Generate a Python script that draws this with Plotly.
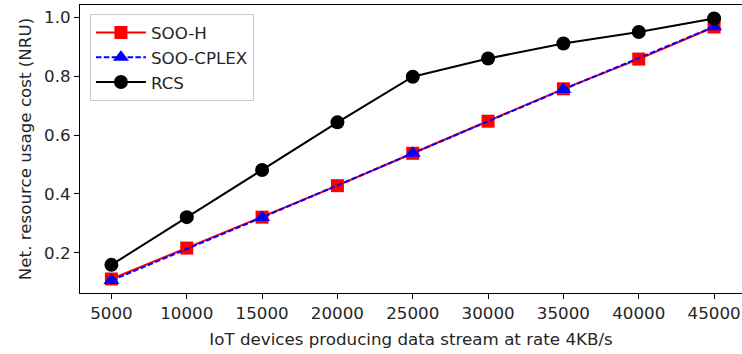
import plotly.graph_objects as go

devices = [5000, 10000, 15000, 20000, 25000, 30000, 35000, 40000, 45000]
soo_h = [0.111, 0.216, 0.321, 0.428, 0.538, 0.647, 0.757, 0.858, 0.967]
cplex_devices = [5000, 15000, 25000, 35000, 45000]
soo_cplex = [0.106, 0.320, 0.538, 0.755, 0.968]
rcs = [0.159, 0.321, 0.481, 0.643, 0.798, 0.860, 0.911, 0.950, 0.996]
x_ticks = [5000, 10000, 15000, 20000, 25000, 30000, 35000, 40000, 45000]
y_ticks = [0.2, 0.4, 0.6, 0.8, 1.0]

FONT = "DejaVu Sans"
FS = 16.7
TXT = "#262626"

fig = go.Figure()
fig.add_trace(go.Scatter(
    x=devices, y=soo_h, name="SOO-H", mode="lines+markers", legendgroup="a",
    line=dict(color="#ff0000", width=2),
    marker=dict(symbol="square", size=13, color="#ff0000"),
))
fig.add_trace(go.Scatter(
    x=cplex_devices, y=soo_cplex, name="SOO-CPLEX", mode="lines+markers", legendgroup="b",
    line=dict(color="#0000ff", width=2, dash="5.5px,2.4px"),
    marker=dict(symbol="triangle-up", size=14, color="#0000ff"),
))
fig.add_trace(go.Scatter(
    x=devices, y=rcs, name="RCS", mode="lines+markers", legendgroup="c",
    line=dict(color="#000000", width=2),
    marker=dict(symbol="circle", size=14, color="#000000"),
))

fig.update_layout(
    width=742, height=354,
    margin=dict(l=80, r=0, t=5, b=61),
    paper_bgcolor="white", plot_bgcolor="white",
    font=dict(family=FONT, size=FS, color=TXT),
    showlegend=True,
    legend=dict(
        x=0.015, y=0.968, xanchor="left", yanchor="top",
        bgcolor="rgba(255,255,255,0.8)", bordercolor="#cccccc", borderwidth=1,
        font=dict(family=FONT, size=FS, color=TXT), tracegroupgap=0,
        itemwidth=50,
    ),
)
fig.update_xaxes(
    range=[2915, 46853], tickvals=x_ticks, ticktext=[str(v) for v in x_ticks],
    showline=True, linecolor="black", linewidth=1, mirror=True,
    ticks="outside", ticklen=5, tickcolor="black", showgrid=False, zeroline=False,
    tickfont=dict(family=FONT, size=FS, color=TXT),
    title=dict(text="IoT devices producing data stream at rate 4KB/s", font=dict(family=FONT, size=FS, color=TXT), standoff=11),
)
fig.update_yaxes(
    range=[0.0634, 1.0417], tickvals=y_ticks, ticktext=[f"{v:.1f}" for v in y_ticks],
    showline=True, linecolor="black", linewidth=1, mirror=False,
    ticks="outside", ticklen=5, tickcolor="black", showgrid=False, zeroline=False,
    tickfont=dict(family=FONT, size=FS, color=TXT),
    title=dict(text="Net. resource usage cost (NRU)", font=dict(family=FONT, size=FS, color=TXT), standoff=8),
)

fig.write_html("out.html")
